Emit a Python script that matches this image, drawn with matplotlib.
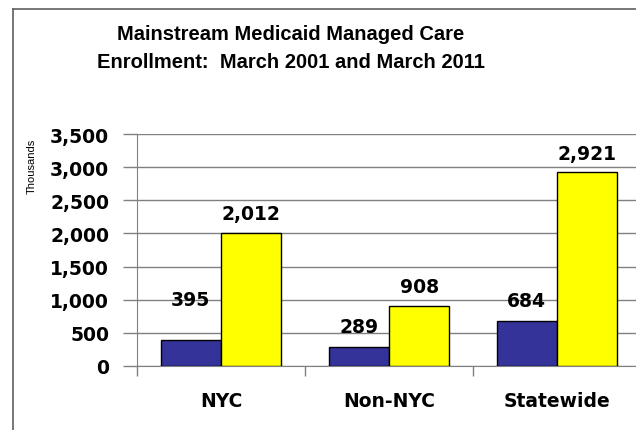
import matplotlib.pyplot as plt
import numpy as np

plt.rcParams['font.family'] = ['Liberation Sans', 'DejaVu Sans']

# enrollment in thousands
regions = ['NYC', 'Non-NYC', 'Statewide']
march_2001 = [395, 289, 684]
march_2011 = [2012, 908, 2921]
y_ticks = [0, 500, 1000, 1500, 2000, 2500, 3000, 3500]

W, H = 636, 431
fig = plt.figure(figsize=(W / 100, H / 100), dpi=100)

# outer frame (chart is cropped on the right / bottom)
fig.add_artist(plt.Line2D([13 / W, 13 / W], [0, 1 - 10 / H], color='#606060', lw=1.2))
fig.add_artist(plt.Line2D([13 / W, 1], [1 - 10 / H, 1 - 10 / H], color='#606060', lw=1.2))

ax = fig.add_axes([137 / W, (H - 367) / H, 504 / W, 232 / H])
ax.set_clip_on(False)

lab = dict(fontsize=13.5, fontweight='bold', family='DejaVu Sans')

x = np.arange(len(regions))
bw = 0.36
b1 = ax.bar(x - bw / 2, march_2001, bw, color='#333399', edgecolor='black', lw=1, zorder=3)
b2 = ax.bar(x + bw / 2, march_2011, bw, color='#ffff00', edgecolor='black', lw=1, zorder=3)

ax.set_xlim(-0.5, 2.5)
ax.set_ylim(0, 3500)
ax.set_yticks(y_ticks)
ax.set_yticklabels([f'{v:,}' for v in y_ticks], **lab)
ax.grid(axis='y', color='#808080', lw=1, zorder=0)
ax.tick_params(axis='y', length=10, color='#808080', width=1, pad=10)

ax.set_xticks(x)
ax.set_xticklabels(regions, **lab)
ax.tick_params(axis='x', length=0, pad=18)
ax.set_xticks([-0.5, 0.5, 1.5], minor=True)
ax.tick_params(axis='x', which='minor', length=7, color='#808080', width=1)

for s in ['top', 'right']:
    ax.spines[s].set_visible(False)
ax.spines['bottom'].set_color('#808080')
ax.spines['left'].set_color('#808080')

# data labels (the 395 label sits higher in the original)
lift_2001 = [40, 20, 20]
for bar, v, d in zip(b1, march_2001, lift_2001):
    ax.annotate(f'{v:,}', (bar.get_x() + bar.get_width() / 2, v), xytext=(0, d),
                textcoords='offset pixels', ha='center', va='center', **lab)
for bar, v in zip(b2, march_2011):
    ax.annotate(f'{v:,}', (bar.get_x() + bar.get_width() / 2, v), xytext=(0, 19),
                textcoords='offset pixels', ha='center', va='center', **lab)

fig.text(32 / W, 1 - 166 / H, 'Thousands', rotation=90, ha='center', va='center', fontsize=8)

fig.text(291 / W, 1 - 35 / H, 'Mainstream Medicaid Managed Care', ha='center', va='center',
         fontsize=14.5, fontweight='bold')
fig.text(291 / W, 1 - 63 / H, 'Enrollment:  March 2001 and March 2011', ha='center', va='center',
         fontsize=14.5, fontweight='bold')

fig.savefig('out.png', dpi=100)
